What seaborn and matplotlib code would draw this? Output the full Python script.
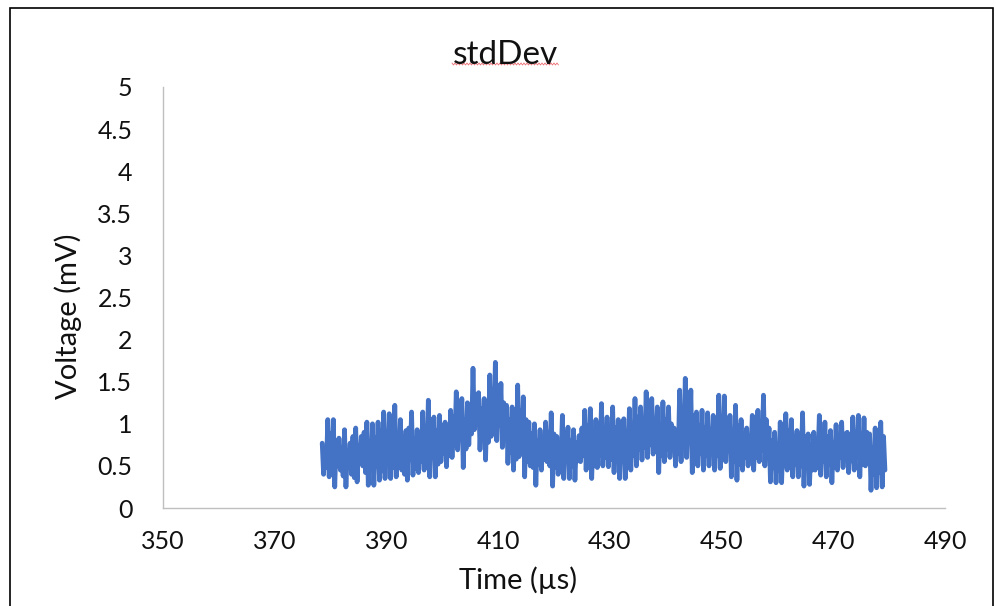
import numpy as np
import pandas as pd
import matplotlib
matplotlib.use("Agg")
import matplotlib.pyplot as plt
from matplotlib.patches import Rectangle
from matplotlib.lines import Line2D
from matplotlib.ticker import FuncFormatter
import seaborn as sns

# Standard deviation trace, 0.25 us sampling.
# Each microsecond holds: main peak, main trough, secondary peak, secondary trough.
t_start_us = 378.5
t_step_us = 0.25

peak_mv = [
    0.77, 1.05, 1.05, 0.83, 0.93, 0.77, 0.95, 0.85, 1.02, 1.00,
    1.02, 1.14, 1.12, 1.22, 1.05, 0.92, 1.14, 0.93,
    1.14, 1.28, 1.08, 1.10, 1.02, 1.16, 1.38, 1.30, 1.25, 1.66,
    1.37, 1.30, 1.58, 1.73, 1.48, 1.22, 1.20,
    1.46, 1.32, 1.02, 1.00, 0.93, 1.02, 1.13, 0.85, 1.10, 0.96,
    0.93, 0.86, 1.16, 1.18, 1.05, 1.24, 1.08,
    1.20, 1.05, 1.06, 1.18, 1.30, 1.20, 1.38, 1.30, 1.20, 1.26,
    1.20, 0.95, 1.40, 1.54, 1.40, 1.14, 1.16,
    1.13, 1.10, 1.34, 1.33, 1.10, 1.22, 1.05, 0.95, 1.10, 1.16,
    1.34, 0.95, 0.90, 1.02, 1.12, 1.05, 0.92,
    1.13, 0.88, 0.90, 1.10, 1.02, 0.92, 0.99, 1.02, 0.90, 1.08,
    1.10, 1.07, 0.88, 0.95, 1.02,
]

trough_mv = [
    0.40, 0.37, 0.25, 0.45, 0.25, 0.40, 0.31, 0.50, 0.27, 0.27,
    0.33, 0.35, 0.35, 0.37, 0.45, 0.33, 0.39, 0.42,
    0.45, 0.37, 0.37, 0.55, 0.49, 0.60, 0.69, 0.48, 0.75, 0.93,
    0.69, 0.57, 0.85, 0.80, 0.72, 0.53, 0.45,
    0.61, 0.37, 0.50, 0.27, 0.45, 0.55, 0.26, 0.40, 0.35, 0.35,
    0.33, 0.55, 0.45, 0.35, 0.48, 0.50, 0.49,
    0.42, 0.35, 0.35, 0.45, 0.50, 0.57, 0.60, 0.64, 0.42, 0.55,
    0.60, 0.50, 0.55, 0.60, 0.42, 0.50, 0.45,
    0.50, 0.45, 0.47, 0.55, 0.37, 0.33, 0.45, 0.50, 0.45, 0.55,
    0.50, 0.31, 0.30, 0.30, 0.45, 0.37, 0.37,
    0.26, 0.28, 0.45, 0.39, 0.37, 0.30, 0.45, 0.48, 0.42, 0.45,
    0.37, 0.50, 0.21, 0.24, 0.25,
]

sub_peak_mv = [
    0.70, 0.88, 0.80, 0.72, 0.68, 0.85, 0.74, 0.90, 0.78, 0.84,
    0.92, 0.80, 1.00, 0.86, 0.76, 0.95, 0.82, 0.78,
    0.95, 1.05, 0.92, 0.98, 0.90, 1.08, 1.15, 1.05, 1.20, 1.35,
    1.18, 1.22, 1.40, 1.45, 1.25, 1.05, 0.98,
    1.15, 1.05, 0.88, 0.80, 0.82, 0.90, 0.88, 0.75, 0.90, 0.80,
    0.78, 0.95, 0.98, 0.85, 1.00, 0.95, 0.92,
    0.95, 0.88, 0.90, 1.00, 1.08, 1.02, 1.12, 1.05, 0.98, 1.05,
    1.00, 0.85, 1.15, 1.20, 1.10, 0.98, 0.95,
    0.92, 0.95, 1.08, 1.05, 0.90, 0.98, 0.88, 0.82, 0.92, 0.98,
    1.05, 0.80, 0.75, 0.85, 0.92, 0.85, 0.80,
    0.85, 0.75, 0.78, 0.90, 0.85, 0.78, 0.85, 0.88, 0.78, 0.90,
    0.88, 0.90, 0.72, 0.80, 0.85,
]

sub_trough_mv = [
    0.48, 0.42, 0.50, 0.38, 0.52, 0.36, 0.55, 0.42, 0.46, 0.50,
    0.44, 0.56, 0.48, 0.52, 0.40, 0.58, 0.47, 0.55,
    0.55, 0.60, 0.52, 0.65, 0.62, 0.75, 0.82, 0.70, 0.88, 1.00,
    0.85, 0.78, 0.95, 0.98, 0.82, 0.66, 0.58,
    0.72, 0.55, 0.48, 0.52, 0.58, 0.50, 0.48, 0.52, 0.55, 0.50,
    0.56, 0.62, 0.55, 0.50, 0.62, 0.60, 0.58,
    0.58, 0.55, 0.60, 0.62, 0.70, 0.72, 0.75, 0.78, 0.62, 0.70,
    0.72, 0.65, 0.72, 0.78, 0.60, 0.65, 0.62,
    0.65, 0.62, 0.68, 0.70, 0.55, 0.52, 0.60, 0.62, 0.60, 0.68,
    0.65, 0.48, 0.45, 0.50, 0.60, 0.52, 0.50,
    0.48, 0.45, 0.58, 0.55, 0.52, 0.48, 0.60, 0.62, 0.56, 0.60,
    0.52, 0.62, 0.40, 0.42, 0.45,
]

x_ticks = [350, 370, 390, 410, 430, 450, 470, 490]
y_ticks = [0, 0.5, 1, 1.5, 2, 2.5, 3, 3.5, 4, 4.5, 5]

values = np.column_stack([peak_mv, trough_mv, sub_peak_mv, sub_trough_mv]).ravel()
times = t_start_us + t_step_us * np.arange(len(values))
df = pd.DataFrame({"time": times, "stddev": values})

sns.set_theme(style="white")
plt.rcParams["font.family"] = ["Lato", "DejaVu Sans"]

W, H = 996, 606
fig = plt.figure(figsize=(W / 100, H / 100), dpi=100)
ax = fig.add_axes([163 / W, 1 - 508 / H, (945 - 163) / W, (508 - 87) / H])

sns.lineplot(data=df, x="time", y="stddev", ax=ax, color="#4472C4",
             linewidth=3.4, sort=False, estimator=None,
             solid_joinstyle="round", solid_capstyle="round")

ax.set_xlim(350, 490)
ax.set_ylim(0, 5)
ax.set_xticks(x_ticks)
ax.set_yticks(y_ticks)
ax.yaxis.set_major_formatter(FuncFormatter(lambda v, p: f"{v:g}"))
ax.tick_params(axis="both", length=0, labelsize=18, colors="#111111")
ax.tick_params(axis="y", pad=22)
ax.tick_params(axis="x", pad=16)
ax.set_xlabel("")
ax.set_ylabel("")
for side in ["top", "right"]:
    ax.spines[side].set_visible(False)
for side in ["left", "bottom"]:
    ax.spines[side].set_color("#BFBFBF")
    ax.spines[side].set_linewidth(1.0)
ax.set_facecolor("white")

# Title, axis titles
fig.text(505 / W, 1 - 55 / H, "stdDev", ha="center", va="center",
         fontsize=24, color="#111111")
fig.text(518 / W, 1 - 580 / H, "Time (µs)", ha="center", va="center",
         fontsize=21, color="#111111")
fig.text(68 / W, 1 - 316 / H, "Voltage (mV)", ha="center", va="center",
         rotation=90, fontsize=21, color="#111111")

# Spell-check squiggle under the title
sx = np.arange(452, 559, 1.5)
sy = np.where(np.arange(len(sx)) % 2 == 0, 63.0, 65.0)
fig.add_artist(Line2D(sx / W, 1 - sy / H, transform=fig.transFigure,
                      color="#E8474F", linewidth=0.6, alpha=0.8))

# Chart frame
fig.add_artist(Rectangle((10 / W, -0.02), (993 - 10) / W, 1.02 - 7.5 / H,
                         transform=fig.transFigure, fill=False,
                         edgecolor="black", linewidth=1.2))

fig.savefig("out.png", dpi=100, facecolor="white")
